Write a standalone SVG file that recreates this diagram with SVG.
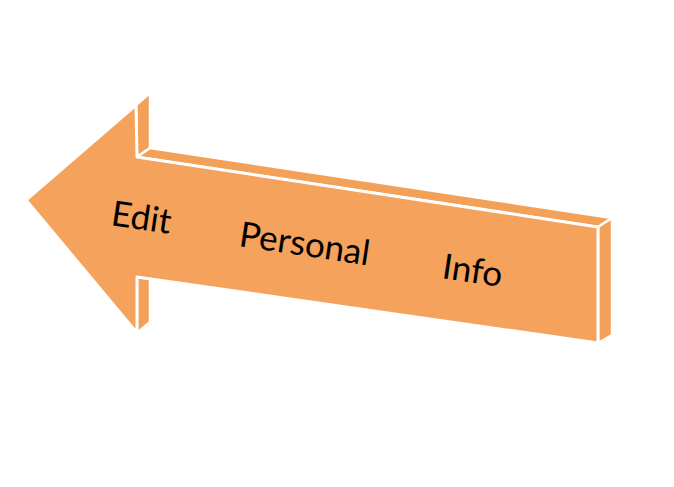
<svg xmlns="http://www.w3.org/2000/svg" width="674" height="487" viewBox="0 0 674 487">
  <style>
    .side { fill: #F3A058; stroke: #ffffff; stroke-width: 2.5; stroke-linejoin: round; }
    .front { fill: #F5A25C; stroke: #ffffff; stroke-width: 3; stroke-linejoin: round; }
    .lbl { font-family: Lato, "Open Sans", "Liberation Sans", sans-serif; font-size: 35px; fill: #000000; }
  </style>
  <rect width="674" height="487" fill="#ffffff"/>
  <g id="arrow">
    <polygon class="side" points="137,277 150,279 150,322 137,333"/>
    <polygon class="side" points="136,105 150,93 150,148 137,157"/>
    <polygon class="side" points="137,157 150,148 612,218 598,227"/>
    <polygon class="side" points="598,227 612,218 612,335 598,343"/>
    <polygon class="front" points="26,200 136,105 137,157 598,227 598,343 137,277 137,333"/>
  </g>
  <g id="labels">
    <text class="lbl" x="110" y="225" transform="rotate(8.5 110 225)">Edit</text>
    <text class="lbl" x="238" y="246" transform="rotate(8.5 238 246)">Personal</text>
    <text class="lbl" x="441" y="278" transform="rotate(8.5 441 278)">Info</text>
  </g>
</svg>
